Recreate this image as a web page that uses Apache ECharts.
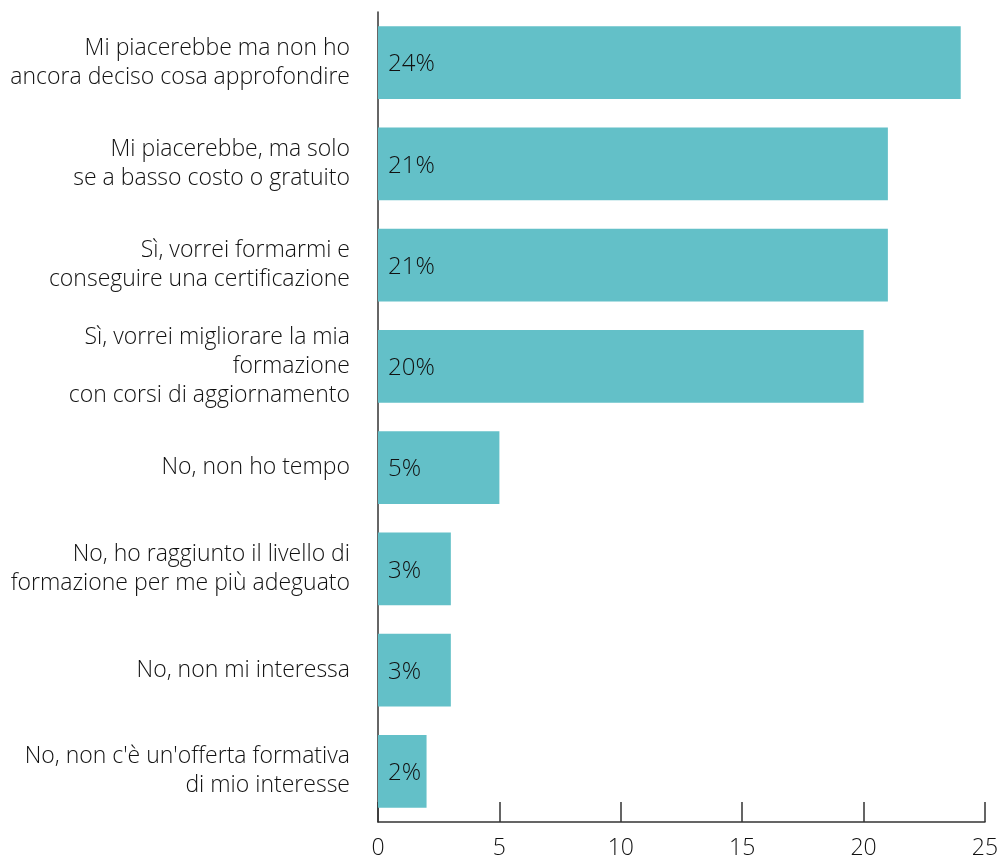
<!DOCTYPE html>
<html>
<head>
<meta charset="utf-8">
<style>
  html, body { margin: 0; padding: 0; background: #ffffff; }
  #chart { width: 1002px; height: 858px; }
</style>
<script src="https://cdn.jsdelivr.net/npm/echarts@6/dist/echarts.min.js"></script>
</head>
<body>
<div id="chart"></div>
<script>
// Survey answers, top to bottom
const categories = [
  "Mi piacerebbe ma non ho\nancora deciso cosa approfondire",
  "Mi piacerebbe, ma solo\nse a basso costo o gratuito",
  "Sì, vorrei formarmi e\nconseguire una certificazione",
  "Sì, vorrei migliorare la mia\nformazione\ncon corsi di aggiornamento",
  "No, non ho tempo",
  "No, ho raggiunto il livello di\nformazione per me più adeguato",
  "No, non mi interessa",
  "No, non c'è un'offerta formativa\ndi mio interesse"
];
// Share of respondents (%)
const values = [24, 21, 21, 20, 5, 3, 3, 2];
// Horizontal axis ticks
const xTicks = [0, 5, 10, 15, 20, 25];

const fontFamily = "'Open Sans', 'Noto Sans', sans-serif";
const textColor = "#111111";

const chart = echarts.init(document.getElementById("chart"), null, { renderer: "canvas" });
chart.setOption({
  animation: false,
  backgroundColor: "#ffffff",
  grid: {
    left: 378, right: 17, top: 12, bottom: 36,
    containLabel: false, outerBoundsMode: "none"
  },
  xAxis: {
    type: "value",
    min: xTicks[0],
    max: xTicks[xTicks.length - 1],
    interval: xTicks[1] - xTicks[0],
    axisLine: { show: true, lineStyle: { color: "#333333", width: 1.5 } },
    axisTick: { show: true, inside: true, length: 20, lineStyle: { color: "#333333", width: 1.5 } },
    splitLine: { show: false },
    axisLabel: { color: textColor, fontSize: 23, fontWeight: 300, fontFamily: fontFamily, margin: 15 }
  },
  yAxis: {
    type: "category",
    data: categories,
    inverse: true,
    axisLine: { show: true, lineStyle: { color: "#333333", width: 1.5 } },
    axisTick: { show: false },
    axisLabel: {
      color: textColor, fontSize: 23, fontWeight: 300, fontFamily: fontFamily,
      margin: 28, lineHeight: 29, align: "right"
    }
  },
  series: [{
    type: "bar",
    data: values,
    barCategoryGap: "28%",
    itemStyle: { color: "#63c0c8" },
    label: {
      show: true,
      position: "insideLeft",
      distance: 10,
      offset: [0, 2],
      formatter: "{c}%",
      color: textColor,
      fontSize: 24,
      fontWeight: 300,
      fontFamily: fontFamily
    }
  }]
});
</script>
</body>
</html>
